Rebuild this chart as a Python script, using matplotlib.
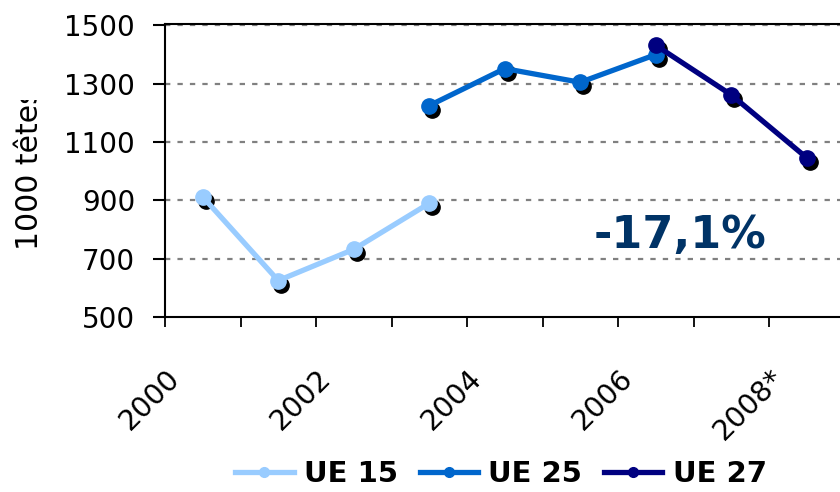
import matplotlib
matplotlib.use('Agg')
import matplotlib.pyplot as plt
import numpy as np
from matplotlib.transforms import ScaledTranslation, Bbox, TransformedBbox, blended_transform_factory

# ---- data ----
years = ["2000", "2001", "2002", "2003", "2004", "2005", "2006", "2007", "2008*"]
shown_labels = ["2000", "2002", "2004", "2006", "2008*"]
ue15 = [912, 625, 732, 890, None, None, None, None, None]
ue25 = [None, None, None, 1225, 1352, 1305, 1400, None, None]
ue27 = [None, None, None, None, None, None, 1432, 1262, 1046]
series_names = ["UE 15", "UE 25", "UE 27"]
colors = ["#99CCFF", "#0066CC", "#000080"]
yticks = [500, 700, 900, 1100, 1300, 1500]
ylabel = "1000 têtes"
annotation = "-17,1%"

fig = plt.figure(figsize=(8.4, 4.92), dpi=100)
ax = fig.add_axes([165 / 840, 1 - 317 / 492, 679.5 / 840, 293 / 492])

x = np.arange(len(years))
series = [np.array(s, dtype=float) for s in (ue15, ue25, ue27)]

# shadows
shadow = ax.transData + ScaledTranslation(0.03, -0.04, fig.dpi_scale_trans)
for vals in series:
    ax.plot(x, vals, 'o', color='black', ms=11, transform=shadow, zorder=2)

handles = []
for i, (vals, c) in enumerate(zip(series, colors)):
    h, = ax.plot(x, vals, '-o', color=c, lw=3.8, ms=11, mec=c, zorder=3 + i)
    handles.append(h)

ax.set_xlim(-0.5, len(years) - 0.5)
ax.set_ylim(500, 1505)
ax.set_yticks(yticks)
ax.set_yticklabels([str(v) for v in yticks], fontsize=20)
ax.tick_params(axis='y', length=8.6, width=1.5, pad=13, direction='out')

# x ticks at category boundaries
ax.set_xticks(np.arange(len(years) + 1) - 0.5)
ax.set_xticklabels([])
ax.tick_params(axis='x', length=7.5, width=1.3, direction='out')

for sp in ['left', 'bottom', 'top']:
    ax.spines[sp].set_linewidth(1.5)
    ax.spines[sp].set_color('black')
ax.spines['right'].set_visible(False)

# gridlines
for v in yticks[1:]:
    ax.axhline(v, color='#808080', lw=1.6, ls=(0, (2.4, 3.2)), zorder=1)

# rotated category labels
trans = blended_transform_factory(ax.transData, ax.transAxes) + \
    ScaledTranslation(-0.27, -0.57, fig.dpi_scale_trans)
for lab in shown_labels:
    i = years.index(lab)
    ax.text(i, 0, lab, transform=trans, rotation=45, ha='right', va='center',
            rotation_mode='anchor', fontsize=20.5, clip_on=False)

# y label (cut at top as in the original)
t = fig.text(30 / 840, 1 - 250 / 492, ylabel, rotation=90, ha='center',
             va='bottom', fontsize=21.5)
t.set_clip_box(TransformedBbox(Bbox([[0, 0], [1, 1 - 100 / 492]]), fig.transFigure))
t.set_clip_on(True)

# annotation
ax.text(6.32, 736, annotation, ha='center', va='baseline', fontsize=32,
        fontweight='bold', color='#003366', zorder=10)

leg = fig.legend(handles, series_names, loc='center',
                 bbox_to_anchor=(501 / 840, 1 - 474 / 492), ncol=3, frameon=False,
                 prop={'weight': 'bold', 'size': 21}, handlelength=2.0,
                 handletextpad=0.35, columnspacing=0.75)
for h in leg.legend_handles:
    h.set_markersize(7)

fig.savefig('out.png', dpi=100)
